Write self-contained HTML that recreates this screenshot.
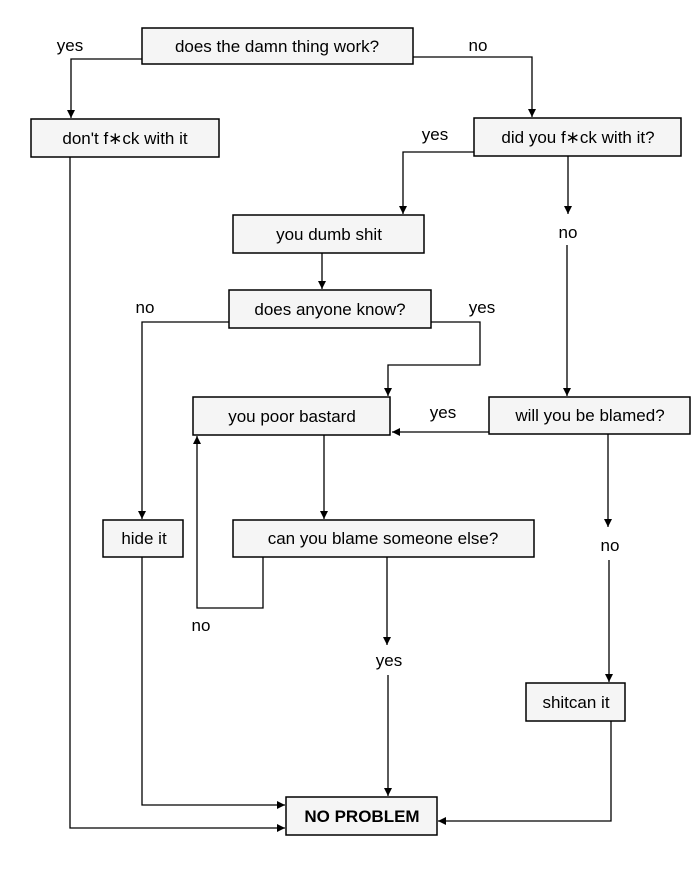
<!DOCTYPE html>
<html><head><style>
html,body{margin:0;padding:0;background:#fff;}
svg{display:block;}
text{font-family:"Liberation Sans",Arial,sans-serif;font-size:17px;fill:#000;}
</style></head><body>
<svg width="700" height="880" viewBox="0 0 700 880" xmlns="http://www.w3.org/2000/svg">
<defs>
<marker id="a" viewBox="0 0 10 10" refX="10" refY="5" markerWidth="8" markerHeight="8" orient="auto" markerUnits="userSpaceOnUse"><path d="M0,0 L10,5 L0,10 z" fill="#000"/></marker>
</defs>
<g fill="none" stroke="#000" stroke-width="1.3">
<polyline points="142,59 71,59 71,118" marker-end="url(#a)"/>
<polyline points="413,57 532,57 532,117" marker-end="url(#a)"/>
<polyline points="70,157 70,828 285,828" marker-end="url(#a)"/>
<polyline points="474,152 403,152 403,214" marker-end="url(#a)"/>
<polyline points="568,156 568,214" marker-end="url(#a)"/>
<polyline points="567,245 567,396" marker-end="url(#a)"/>
<polyline points="322,253 322,289" marker-end="url(#a)"/>
<polyline points="229,322 142,322 142,519" marker-end="url(#a)"/>
<polyline points="431,322 480,322 480,365 388,365 388,396" marker-end="url(#a)"/>
<polyline points="489,432 392,432" marker-end="url(#a)"/>
<polyline points="608,434 608,527" marker-end="url(#a)"/>
<polyline points="609,560 609,682" marker-end="url(#a)"/>
<polyline points="324,435 324,519" marker-end="url(#a)"/>
<polyline points="263,557 263,608 197,608 197,436" marker-end="url(#a)"/>
<polyline points="387,557 387,645" marker-end="url(#a)"/>
<polyline points="388,675 388,796" marker-end="url(#a)"/>
<polyline points="142,557 142,805 285,805" marker-end="url(#a)"/>
<polyline points="611,721 611,821 438,821" marker-end="url(#a)"/>
</g>
<g fill="#f5f5f5" stroke="#000" stroke-width="1.5">
<rect x="142" y="28" width="271" height="36"/>
<rect x="31" y="119" width="188" height="38"/>
<rect x="474" y="118" width="207" height="38"/>
<rect x="233" y="215" width="191" height="38"/>
<rect x="229" y="290" width="202" height="38"/>
<rect x="193" y="397" width="197" height="38"/>
<rect x="489" y="397" width="201" height="37"/>
<rect x="103" y="520" width="80" height="37"/>
<rect x="233" y="520" width="301" height="37"/>
<rect x="526" y="683" width="99" height="38"/>
<rect x="286" y="797" width="151" height="38"/>
</g>
<g text-anchor="middle">
<text x="277" y="52">does the damn thing work?</text>
<text x="125" y="144">don't f∗ck with it</text>
<text x="578" y="143">did you f∗ck with it?</text>
<text x="329" y="240">you dumb shit</text>
<text x="330" y="315">does anyone know?</text>
<text x="292" y="422">you poor bastard</text>
<text x="590" y="421">will you be blamed?</text>
<text x="144" y="544">hide it</text>
<text x="383" y="544">can you blame someone else?</text>
<text x="576" y="708">shitcan it</text>
<text x="362" y="822" font-weight="bold">NO PROBLEM</text>
<text x="70" y="51">yes</text>
<text x="478" y="51">no</text>
<text x="435" y="140">yes</text>
<text x="568" y="238">no</text>
<text x="145" y="313">no</text>
<text x="482" y="313">yes</text>
<text x="443" y="418">yes</text>
<text x="610" y="551">no</text>
<text x="201" y="631">no</text>
<text x="389" y="666">yes</text>
</g>
</svg>
</body></html>
